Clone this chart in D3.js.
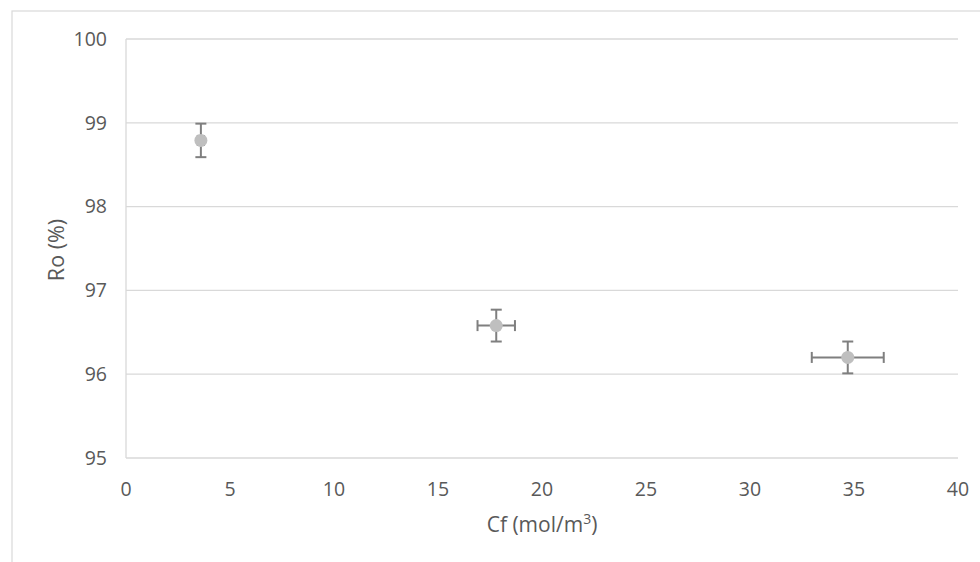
<!DOCTYPE html>
<html><head><meta charset="utf-8">
<script src="https://cdn.jsdelivr.net/npm/d3@7/dist/d3.min.js"></script>
<style>body{margin:0;background:#fff}svg{display:block}text{font-family:"Open Sans",sans-serif;fill:#595959}</style>
</head><body>
<svg id="c" width="980" height="562"></svg>
<script>
const cf = [3.6, 17.8, 34.7];
const ro = [98.79, 96.58, 96.2];
const cfErr = [0.15, 0.9, 1.73];
const roErr = [0.2, 0.19, 0.19];
const xTicks = [0,5,10,15,20,25,30,35,40];
const yTicks = [95,96,97,98,99,100];

const svg = d3.select("#c");
const L=126,R=958,T=39,B=458;
const x = d3.scaleLinear().domain([0,40]).range([L,R]);
const y = d3.scaleLinear().domain([95,100]).range([B,T]);

svg.append("rect").attr("x",12).attr("y",11).attr("width",1000).attr("height",600)
  .attr("fill","none").attr("stroke","#d9d9d9").attr("stroke-width",1.2);

svg.append("g").selectAll("line").data(yTicks).join("line")
  .attr("x1",L).attr("x2",R).attr("y1",d=>y(d)).attr("y2",d=>y(d))
  .attr("stroke","#d9d9d9").attr("stroke-width",1.3);
svg.append("line").attr("x1",L).attr("x2",L).attr("y1",T).attr("y2",B)
  .attr("stroke","#d9d9d9").attr("stroke-width",1.3);

svg.append("g").selectAll("text").data(yTicks).join("text")
  .attr("x",107).attr("y",d=>y(d)).attr("dy","0.35em").attr("text-anchor","end")
  .attr("font-size",19.5).text(d=>d);
svg.append("g").selectAll("text").data(xTicks).join("text")
  .attr("x",d=>x(d)).attr("y",489).attr("dy","0.35em").attr("text-anchor","middle")
  .attr("font-size",19.5).text(d=>d);

svg.append("text").attr("transform","translate(56,250) rotate(-90)")
  .attr("text-anchor","middle").attr("dy","0.35em").attr("font-size",21.5).text("Ro (%)");
const xt = svg.append("text").attr("x",542).attr("y",532).attr("text-anchor","middle").attr("font-size",21);
xt.append("tspan").text("Cf (mol/m");
xt.append("tspan").attr("font-size",14).attr("dy",-8).text("3");
xt.append("tspan").attr("dy",8).text(")");

const pts = cf.map((c,i)=>({c, r:ro[i], ex:cfErr[i], ey:roErr[i]}));
const eb = svg.append("g").attr("stroke","#7f7f7f").attr("stroke-width",2);
const cap = 5.5;
pts.forEach(p=>{
  const cx=x(p.c), cy=y(p.r);
  eb.append("line").attr("x1",cx).attr("x2",cx).attr("y1",y(p.r+p.ey)).attr("y2",y(p.r-p.ey));
  eb.append("line").attr("x1",cx-cap).attr("x2",cx+cap).attr("y1",y(p.r+p.ey)).attr("y2",y(p.r+p.ey));
  eb.append("line").attr("x1",cx-cap).attr("x2",cx+cap).attr("y1",y(p.r-p.ey)).attr("y2",y(p.r-p.ey));
  eb.append("line").attr("x1",x(p.c-p.ex)).attr("x2",x(p.c+p.ex)).attr("y1",cy).attr("y2",cy);
  eb.append("line").attr("x1",x(p.c-p.ex)).attr("x2",x(p.c-p.ex)).attr("y1",cy-cap).attr("y2",cy+cap);
  eb.append("line").attr("x1",x(p.c+p.ex)).attr("x2",x(p.c+p.ex)).attr("y1",cy-cap).attr("y2",cy+cap);
});
svg.append("g").selectAll("circle").data(pts).join("circle")
  .attr("cx",d=>x(d.c)).attr("cy",d=>y(d.r)).attr("r",6.5).attr("fill","#bfbfbf");
</script>
</body></html>
